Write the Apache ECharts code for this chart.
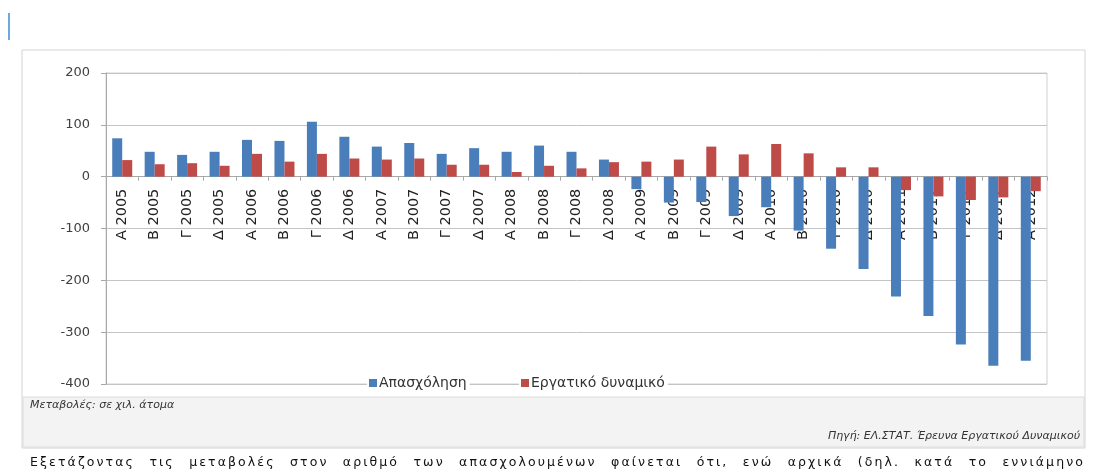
<!DOCTYPE html>
<html>
<head>
<meta charset="utf-8">
<script src="https://cdn.jsdelivr.net/npm/echarts@6/dist/echarts.min.js"></script>
<style>
  html, body { margin: 0; padding: 0; background: #fff; }
  #wrap { position: relative; width: 1094px; height: 475px; overflow: hidden; }
  #chart { position: absolute; left: 0; top: 0; width: 1094px; height: 475px; }
  #para {
    position: absolute; left: 30px; top: 453px; width: 1055px;
    font-family: "DejaVu Sans", sans-serif; font-size: 12.5px; color: #111;
    letter-spacing: 2.1px;
    text-align: justify; text-align-last: justify; white-space: nowrap;
    line-height: 18px;
  }
</style>
</head>
<body>
<div id="wrap">
  <div id="chart"></div>
  <div id="para">Εξετάζοντας τις μεταβολές στον αριθμό των απασχολουμένων φαίνεται ότι, ενώ αρχικά (δηλ. κατά το εννιάμηνο</div>
</div>
<script>
// Quarterly changes, thousands of persons
const quarters = [
  'Α 2005','Β 2005','Γ 2005','Δ 2005',
  'Α 2006','Β 2006','Γ 2006','Δ 2006',
  'Α 2007','Β 2007','Γ 2007','Δ 2007',
  'Α 2008','Β 2008','Γ 2008','Δ 2008',
  'Α 2009','Β 2009','Γ 2009','Δ 2009',
  'Α 2010','Β 2010','Γ 2010','Δ 2010',
  'Α 2011','Β 2011','Γ 2011','Δ 2011',
  'Α 2012'
];
const employment = [
  74, 48, 42, 48,
  71, 69, 106, 77,
  58, 65, 44, 55,
  48, 60, 48, 33,
  -24, -50, -49, -76,
  -59, -104, -139, -178,
  -231, -269, -324, -365,
  -355
];
const labourForce = [
  32, 24, 26, 21,
  44, 29, 44, 35,
  33, 35, 23, 23,
  9, 21, 16, 28,
  29, 33, 58, 43,
  63, 45, 18, 18,
  -26, -38, -45, -40,
  -28
];
const seriesNames = ['Απασχόληση', 'Εργατικό δυναμικό'];
const unitNote = 'Μεταβολές: σε χιλ. άτομα';
const sourceNote = 'Πηγή: ΕΛ.ΣΤΑΤ. Έρευνα Εργατικού Δυναμικού';
const Y_MIN = -400, Y_MAX = 200, Y_STEP = 100;

const BLUE = '#4a7ebb';
const RED = '#be4b48';
const GRID_LINE = '#c4c4c4';

// plot rectangle
const GRID = { left: 106, right: 47, top: 73, bottom: 91 };
const plotHeight = 475 - GRID.top - GRID.bottom;
// the category axis sits on the zero line
const zeroFromBottom = plotHeight * (0 - Y_MIN) / (Y_MAX - Y_MIN);

// one legend box per series so the bottom gridline shows between them
function legendBox(name, left) {
  return {
    data: [name], left: left, top: 375,
    itemWidth: 8, itemHeight: 8, icon: 'rect',
    padding: [1, 3, 1, 2],
    backgroundColor: '#fff',
    textStyle: { fontSize: 14, color: '#333', padding: [0, 0, 0, -3] }
  };
}

const chart = echarts.init(document.getElementById('chart'));
chart.setOption({
  animation: false,
  backgroundColor: '#fff',
  textStyle: { fontFamily: 'DejaVu Sans, sans-serif' },
  graphic: [
    // small accent mark at the top left
    { type: 'rect', shape: { x: 8, y: 13, width: 2, height: 27 }, style: { fill: '#6fa8dc' }, silent: true },
    // outer frame of the chart panel
    { type: 'rect', shape: { x: 22, y: 50, width: 1063, height: 398 },
      style: { fill: 'none', stroke: '#d4d4d4', lineWidth: 1 }, silent: true, z: -10 },
    // footer band with notes
    { type: 'rect', shape: { x: 23, y: 397, width: 1061, height: 50 },
      style: { fill: '#f3f3f3', stroke: '#dcdcdc', lineWidth: 1 }, silent: true, z: -10 },
    { type: 'text', left: 30, top: 400,
      style: { text: unitNote, font: 'italic 11px "DejaVu Sans", sans-serif', fill: '#333' } },
    { type: 'text', right: 14, top: 431,
      style: { text: sourceNote, font: 'italic 11px "DejaVu Sans", sans-serif', fill: '#333' } }
  ],
  legend: [legendBox(seriesNames[0], 367), legendBox(seriesNames[1], 519)],
  grid: Object.assign({ show: true, borderColor: '#d0d0d0', borderWidth: 1 }, GRID),
  xAxis: {
    type: 'category',
    data: quarters,
    position: 'bottom',
    offset: -zeroFromBottom,
    axisLine: { onZero: false, lineStyle: { color: '#a8a8a8', width: 1 } },
    axisTick: { show: true, length: 4, lineStyle: { color: '#a8a8a8' } },
    axisLabel: { rotate: 90, fontSize: 14.5, color: '#222', margin: 12, interval: 0 },
    splitLine: { show: false }
  },
  yAxis: {
    type: 'value',
    min: Y_MIN, max: Y_MAX, interval: Y_STEP,
    axisLine: { show: true, lineStyle: { color: '#a8a8a8' } },
    axisTick: { show: true, length: 5, lineStyle: { color: '#a8a8a8' } },
    axisLabel: { fontSize: 13, color: '#404040', margin: 16 },
    splitLine: { lineStyle: { color: GRID_LINE, width: 1 } }
  },
  series: [
    { name: seriesNames[0], type: 'bar', data: employment,
      barWidth: 10, barGap: '0%', itemStyle: { color: BLUE } },
    { name: seriesNames[1], type: 'bar', data: labourForce,
      barWidth: 10, barGap: '0%', itemStyle: { color: RED } }
  ]
});
</script>
</body>
</html>
